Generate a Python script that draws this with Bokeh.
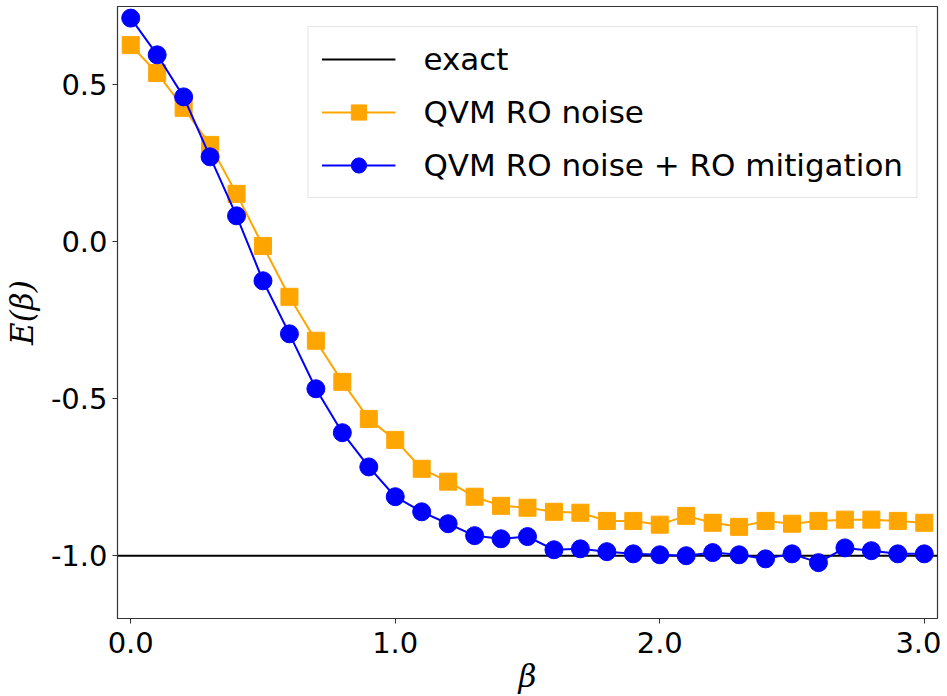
from bokeh.plotting import figure
from bokeh.models import Legend, LegendItem, FixedTicker, Range1d
from bokeh.embed import file_html
from bokeh.resources import INLINE

beta = [round(0.1 * i, 1) for i in range(31)]
ro_noise = [0.627, 0.538, 0.427, 0.309, 0.153, -0.013, -0.175, -0.315, -0.446, -0.564,
            -0.631, -0.723, -0.764, -0.812, -0.841, -0.847, -0.860, -0.863, -0.889, -0.889,
            -0.901, -0.873, -0.895, -0.908, -0.889, -0.898, -0.889, -0.885, -0.885, -0.889, -0.895]
ro_mitig = [0.713, 0.596, 0.462, 0.271, 0.083, -0.124, -0.293, -0.468, -0.608, -0.717,
            -0.812, -0.860, -0.898, -0.936, -0.946, -0.939, -0.981, -0.978, -0.987, -0.994,
            -0.997, -1.000, -0.990, -0.997, -1.010, -0.994, -1.022, -0.975, -0.984, -0.994, -0.994]
exact_x = [-0.05, 3.05]
exact_y = [-1.0, -1.0]
x_ticks = [0.0, 1.0, 2.0, 3.0]
x_tick_labels = ["0.0", "1.0", "2.0", "3.0"]
y_ticks = [0.5, 0.0, -0.5, -1.0]
y_tick_labels = ["0.5", "0.0", "-0.5", "-1.0"]

p = figure(frame_width=820, frame_height=612, output_backend="svg", toolbar_location=None,
           x_range=Range1d(-0.05, 3.05), y_range=Range1d(-1.2, 0.75),
           min_border_left=100, min_border_right=4, min_border_top=6, min_border_bottom=4)
p.background_fill_color = "white"
p.border_fill_color = "white"
p.grid.visible = False
p.outline_line_color = "#333333"
p.outline_line_width = 1.2

for ax in (p.xaxis[0], p.yaxis[0]):
    ax.axis_line_color = "#333333"
    ax.major_tick_line_color = "#333333"
    ax.major_tick_out = 5
    ax.major_tick_in = 0
    ax.minor_tick_line_color = None
    ax.major_label_text_font = "DejaVu Sans"
    ax.major_label_text_font_size = "29px"
    ax.major_label_text_color = "black"
    ax.axis_label_text_font = "DejaVu Serif"
    ax.axis_label_text_font_style = "italic"
    ax.axis_label_text_font_size = "31px"
    ax.axis_label_text_color = "black"

p.xaxis.ticker = FixedTicker(ticks=x_ticks)
p.xaxis.major_label_overrides = dict(zip(x_ticks, x_tick_labels))
p.yaxis.ticker = FixedTicker(ticks=y_ticks)
p.yaxis.major_label_overrides = dict(zip(y_ticks, y_tick_labels))
p.xaxis.axis_label = "β"
p.yaxis.axis_label = "E(β)"
p.xaxis.major_label_standoff = 8
p.yaxis.major_label_standoff = 5
p.xaxis.axis_label_standoff = 2
p.yaxis.axis_label_standoff = 8

r_exact = p.line(exact_x, exact_y, line_color="black", line_width=2)
r_ol = p.line(beta, ro_noise, line_color="orange", line_width=2)
r_om = p.scatter(beta, ro_noise, marker="square", size=17, fill_color="orange", line_color="orange")
r_bl = p.line(beta, ro_mitig, line_color="blue", line_width=2)
r_bm = p.scatter(beta, ro_mitig, marker="circle", size=18, fill_color="blue", line_color="blue")

legend = Legend(items=[
    LegendItem(label="exact", renderers=[r_exact]),
    LegendItem(label="QVM RO noise", renderers=[r_ol, r_om]),
    LegendItem(label="QVM RO noise + RO mitigation", renderers=[r_bl, r_bm]),
], location="top_right")
legend.label_text_font = "DejaVu Sans"
legend.label_text_font_size = "31px"
legend.label_text_color = "black"
legend.glyph_width = 74
legend.glyph_height = 38
legend.label_standoff = 28
legend.spacing = 15
legend.padding = 13
legend.margin = 20
legend.border_line_color = "#cccccc"
legend.border_line_width = 1.5
legend.background_fill_alpha = 0.8
p.add_layout(legend)

open("out.html", "w").write(file_html(p, INLINE))
